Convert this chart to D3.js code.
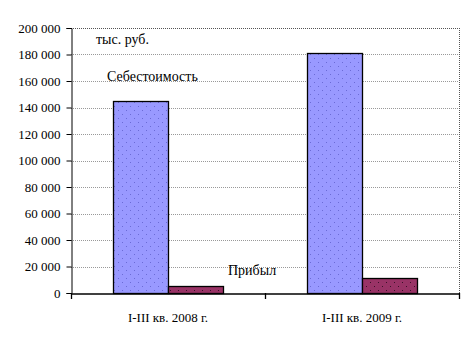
<!DOCTYPE html>
<html>
<head>
<meta charset="utf-8">
<script src="https://cdn.jsdelivr.net/npm/d3@7"></script>
<style>
  body { margin: 0; background: #fff; }
</style>
</head>
<body>
<svg id="chart" width="476" height="344"></svg>
<script>
const categories = ['I-III кв. 2008 г.', 'I-III кв. 2009 г.'];
const seriesNames = ['Себестоимость', 'Прибыл'];
const cost = [145000, 181000];
const profit = [5300, 11300];
const yTicks = [0, 20000, 40000, 60000, 80000, 100000, 120000, 140000, 160000, 180000, 200000];

const FONT = "'Liberation Serif', 'Times New Roman', Tinos, 'DejaVu Serif', serif";
const margin = { left: 71, right: 17, top: 28, bottom: 51 };
const width = 476, height = 344;

const svg = d3.select('#chart');

const defs = svg.append('defs');
function dots(id, bg, dot) {
  const p = defs.append('pattern')
    .attr('id', id)
    .attr('patternUnits', 'userSpaceOnUse')
    .attr('width', 8).attr('height', 8);
  p.append('rect').attr('width', 8).attr('height', 8).attr('fill', bg);
  p.append('rect').attr('x', 2).attr('y', 2).attr('width', 1).attr('height', 1).attr('fill', dot);
  p.append('rect').attr('x', 6).attr('y', 6).attr('width', 1).attr('height', 1).attr('fill', dot);
}
dots('p0', '#9999ff', '#6b6bd6');
dots('p1', '#993366', '#3a1028');

const x = d3.scaleBand()
  .domain(categories)
  .range([margin.left, width - margin.right])
  .paddingInner(0)
  .paddingOuter(0);

const y = d3.scaleLinear()
  .domain([0, 200000])
  .range([height - margin.bottom, margin.top]);

const inner = d3.scaleBand()
  .domain(seriesNames)
  .range([0, x.bandwidth()])
  .paddingInner(0)
  .paddingOuter(0.75);

// gridlines
svg.append('g')
  .selectAll('line')
  .data(yTicks.filter(d => d > 0))
  .enter()
  .append('line')
  .attr('x1', margin.left)
  .attr('x2', width - margin.right)
  .attr('y1', d => Math.round(y(d)) + 0.5)
  .attr('y2', d => Math.round(y(d)) + 0.5)
  .attr('stroke', d => d === 200000 ? '#555' : '#999')
  .attr('stroke-dasharray', '1,1');

// right border
svg.append('line')
  .attr('x1', width - margin.right + 0.5)
  .attr('x2', width - margin.right + 0.5)
  .attr('y1', margin.top)
  .attr('y2', height - margin.bottom)
  .attr('stroke', '#555')
  .attr('stroke-dasharray', '1,1');

// bars
const data = [cost, profit];
const groups = svg.append('g')
  .selectAll('g')
  .data(seriesNames)
  .enter()
  .append('g');

groups.selectAll('rect')
  .data((s, i) => categories.map((c, j) => ({ c, s, i, v: data[i][j] })))
  .enter()
  .append('rect')
  .attr('x', d => Math.round(x(d.c) + inner(d.s)) + 0.5)
  .attr('y', d => Math.round(y(d.v)) + 0.5)
  .attr('width', Math.round(inner.bandwidth()))
  .attr('height', d => Math.round(y(0)) - Math.round(y(d.v)))
  .attr('fill', d => `url(#p${d.i})`)
  .attr('stroke', '#000')
  .attr('stroke-width', 1.3);

// y axis
const yAxis = svg.append('g')
  .attr('transform', `translate(${margin.left + 0.5},0)`)
  .call(d3.axisLeft(y)
    .tickValues(yTicks)
    .tickSize(5)
    .tickPadding(6)
    .tickFormat(d => d3.format(',')(d).replace(/,/g, ' ')));
yAxis.attr('font-family', FONT).attr('font-size', 13);
yAxis.select('.domain').attr('stroke', '#000');

// x axis
const xAxis = svg.append('g')
  .attr('transform', `translate(0,${Math.round(y(0)) + 0.5})`)
  .call(d3.axisBottom(x).tickSize(0).tickPadding(19));
xAxis.attr('font-family', FONT).attr('font-size', 13);
xAxis.select('.domain').attr('stroke', '#000').attr('stroke-width', 1.3);

// category separator ticks
svg.append('g')
  .selectAll('line')
  .data([x.range()[0], x(categories[1]), x.range()[1]])
  .enter()
  .append('line')
  .attr('x1', d => Math.round(d) + 0.5)
  .attr('x2', d => Math.round(d) + 0.5)
  .attr('y1', Math.round(y(0)))
  .attr('y2', Math.round(y(0)) + 6)
  .attr('stroke', '#000')
  .attr('stroke-width', 1.3);

// annotations
const notes = svg.append('g').attr('font-family', FONT).attr('font-size', 14);
notes.append('text').attr('x', 96).attr('y', 44).text('тыс. руб.');
notes.append('text').attr('x', 107).attr('y', 81).text(seriesNames[0]);
notes.append('text').attr('x', 228).attr('y', 275).text(seriesNames[1]);
</script>
</body>
</html>
